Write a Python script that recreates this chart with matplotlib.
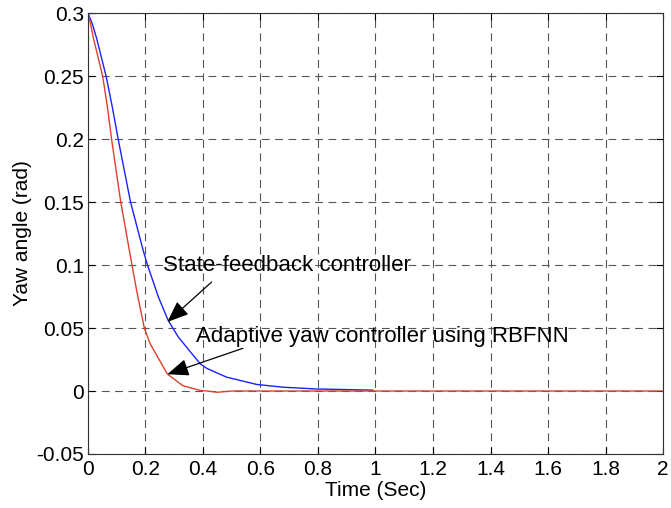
import numpy as np
import matplotlib.pyplot as plt

plt.rcParams['font.family'] = ['Liberation Sans', 'DejaVu Sans']

# state-feedback controller (blue)
t_sf = [0, 0.015, 0.03, 0.063, 0.085, 0.105, 0.148, 0.192, 0.207, 0.245, 0.279, 0.314,
        0.36, 0.39, 0.413, 0.482, 0.587, 0.68, 0.795, 0.97, 0.99]
yaw_sf = [0.3, 0.2914, 0.28, 0.25, 0.225, 0.2, 0.15, 0.1116, 0.1, 0.0746, 0.056, 0.0429,
          0.03, 0.0217, 0.018, 0.011, 0.0052, 0.003, 0.0016, 0.0008, 0.0007]

# adaptive yaw controller using RBFNN (red)
t_ad = [0, 0.009, 0.019, 0.051, 0.068, 0.082, 0.114, 0.144, 0.169, 0.196, 0.216, 0.276,
        0.33, 0.39, 0.413, 0.45, 0.5, 2.0]
yaw_ad = [0.3, 0.2914, 0.28, 0.25, 0.225, 0.2, 0.15, 0.1116, 0.08, 0.05, 0.0376, 0.0135,
          0.0042, 0.0005, 0.0, -0.001, 0.0, 0.0]

xticks = np.arange(0, 2.01, 0.2)
xtick_labels = ['0', '0.2', '0.4', '0.6', '0.8', '1', '1.2', '1.4', '1.6', '1.8', '2']
yticks = [-0.05, 0, 0.05, 0.1, 0.15, 0.2, 0.25, 0.3]
ytick_labels = ['-0.05', '0', '0.05', '0.1', '0.15', '0.2', '0.25', '0.3']

fig = plt.figure(figsize=(6.71, 5.08), dpi=100)
ax = fig.add_axes([0.1311, 0.1063, 0.857, 0.868])

ax.plot(t_sf, yaw_sf, color='#1f1fff', lw=1.0)
ax.plot(t_ad, yaw_ad, color='#dc422a', lw=1.0)

ax.set_xlim(0, 2)
ax.set_ylim(-0.05, 0.3)
ax.set_xticks(xticks)
ax.set_xticklabels(xtick_labels)
ax.set_yticks(yticks)
ax.set_yticklabels(ytick_labels)
ax.tick_params(direction='in', top=True, right=True, labelsize=15, length=5)
ax.tick_params(axis='x', pad=4)
ax.tick_params(axis='y', pad=3)
ax.grid(True, color='#555555', linestyle=(0, (7, 5)), linewidth=0.8)
for s in ax.spines.values():
    s.set_color('#333333')
    s.set_linewidth(0.8)

ax.set_xlabel('Time (Sec)', fontsize=15, labelpad=2)
ax.set_ylabel('Yaw angle (rad)', fontsize=15, labelpad=3)

# annotations
arrow = dict(arrowstyle='-|>,head_length=0.6,head_width=0.24', color='black', lw=0.9,
             mutation_scale=22, shrinkA=0, shrinkB=0)
ax.text(0.26, 0.0998, 'State-feedback controller', fontsize=16, ha='left', va='center')
ax.annotate('', xy=(0.276, 0.0548), xytext=(0.43, 0.0865), arrowprops=arrow)
ax.text(0.375, 0.0434, 'Adaptive yaw controller using RBFNN', fontsize=16, ha='left', va='center')
ax.annotate('', xy=(0.276, 0.0133), xytext=(0.539, 0.0339), arrowprops=arrow)

fig.savefig('out.png', dpi=100)
